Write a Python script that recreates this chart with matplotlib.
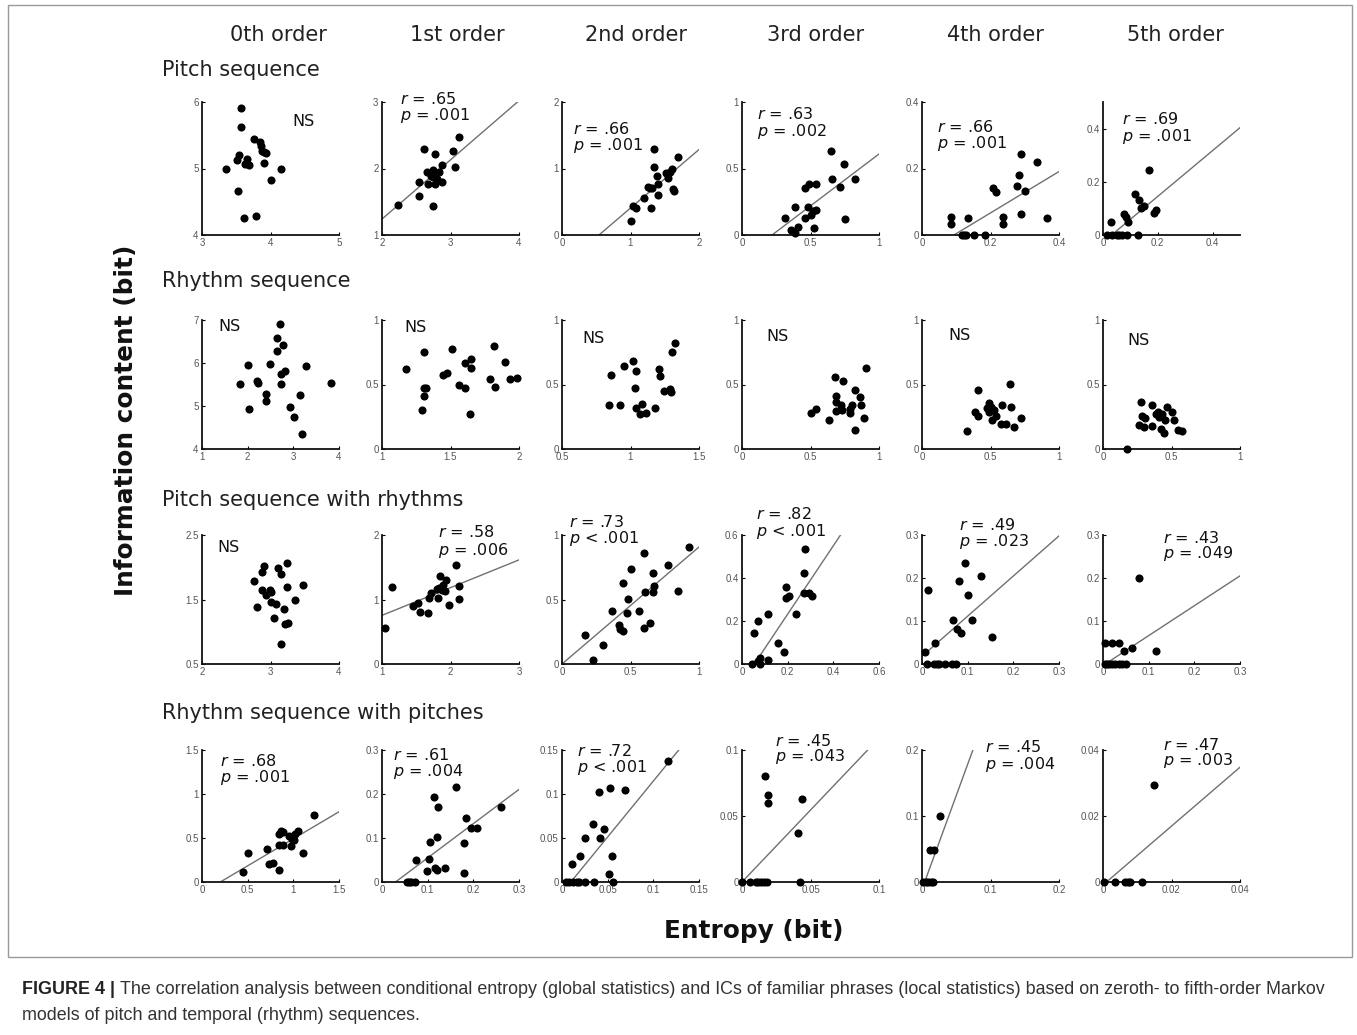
import numpy as np
import matplotlib
matplotlib.use('Agg')
import matplotlib.pyplot as plt
from matplotlib.ticker import FuncFormatter
from matplotlib.patches import Rectangle

# ---- labels ----
orders = ['0th order', '1st order', '2nd order', '3rd order', '4th order', '5th order']
row_titles = ['Pitch sequence', 'Rhythm sequence',
              'Pitch sequence with rhythms', 'Rhythm sequence with pitches']

# ---- row 1: pitch sequence (entropy x, IC y), one list per Markov order ----
pitch_x = [
    [3.57, 3.57, 3.76, 3.84, 3.86, 3.88, 3.90, 3.94, 3.54, 3.51, 3.66, 3.63, 3.69, 3.90, 3.35, 4.15, 4.01, 3.52, 3.62, 3.79],
    [2.24, 2.54, 2.54, 2.65, 2.67, 2.62, 2.75, 2.75, 2.77, 2.77, 2.75, 2.83, 2.88, 2.88, 3.03, 3.06, 3.13, 2.80, 2.72],
    [1.01, 1.03, 1.08, 1.20, 1.25, 1.28, 1.32, 1.30, 1.34, 1.35, 1.38, 1.40, 1.40, 1.52, 1.55, 1.57, 1.61, 1.62, 1.63, 1.70],
    [0.317, 0.385, 0.356, 0.385, 0.407, 0.463, 0.488, 0.483, 0.463, 0.50, 0.52, 0.537, 0.527, 0.537, 0.651, 0.659, 0.712, 0.744, 0.751, 0.824],
    [0.086, 0.086, 0.117, 0.129, 0.135, 0.151, 0.185, 0.208, 0.215, 0.236, 0.236, 0.277, 0.283, 0.289, 0.289, 0.302, 0.335, 0.364, 0.122],
    [0.031, 0.015, 0.033, 0.052, 0.070, 0.089, 0.126, 0.078, 0.085, 0.092, 0.117, 0.132, 0.139, 0.150, 0.169, 0.185, 0.193, 0.060],
]
pitch_y = [
    [5.91, 5.63, 5.44, 5.40, 5.34, 5.27, 5.25, 5.23, 5.20, 5.13, 5.15, 5.07, 5.06, 5.09, 4.99, 4.99, 4.83, 4.66, 4.26, 4.28],
    [1.45, 1.59, 1.80, 1.94, 1.76, 2.29, 1.97, 1.87, 1.77, 2.22, 1.43, 1.94, 2.05, 1.80, 2.27, 2.03, 2.47, 1.84, 1.89],
    [0.21, 0.43, 0.41, 0.55, 0.72, 0.71, 0.70, 0.41, 1.29, 1.03, 0.88, 0.76, 0.60, 0.93, 0.86, 0.94, 1.00, 0.69, 0.66, 1.17],
    [0.127, 0.21, 0.04, 0.015, 0.06, 0.354, 0.386, 0.21, 0.127, 0.152, 0.177, 0.19, 0.056, 0.386, 0.633, 0.418, 0.36, 0.537, 0.12, 0.418],
    [0.053, 0.033, 0.0, 0.0, 0.052, 0.0, 0.0, 0.142, 0.130, 0.053, 0.033, 0.147, 0.18, 0.243, 0.063, 0.132, 0.219, 0.052, 0.0],
    [0.05, 0.0, 0.0, 0.0, 0.0, 0.0, 0.0, 0.08, 0.068, 0.05, 0.153, 0.13, 0.103, 0.109, 0.246, 0.084, 0.093, 0.0],
]

# ---- row 2: rhythm sequence ----
rhythm_x = [
    [1.84, 2.00, 2.04, 2.20, 2.23, 2.41, 2.41, 2.48, 2.64, 2.64, 2.71, 2.77, 2.74, 2.82, 2.74, 2.92, 3.01, 3.15, 3.28, 3.19, 3.82],
    [1.178, 1.305, 1.305, 1.32, 1.305, 1.293, 1.446, 1.476, 1.510, 1.559, 1.607, 1.605, 1.651, 1.651, 1.641, 1.787, 1.817, 1.822, 1.895, 1.934, 1.983],
    [0.842, 0.859, 0.927, 0.951, 1.019, 1.039, 1.031, 1.039, 1.067, 1.082, 1.111, 1.181, 1.207, 1.217, 1.241, 1.289, 1.299, 1.304, 1.328],
    [0.502, 0.542, 0.681, 0.738, 0.689, 0.689, 0.689, 0.637, 0.721, 0.721, 0.787, 0.804, 0.789, 0.825, 0.858, 0.868, 0.824, 0.89, 0.907, 0.73],
    [0.332, 0.385, 0.41, 0.41, 0.471, 0.488, 0.488, 0.512, 0.527, 0.537, 0.573, 0.585, 0.61, 0.641, 0.649, 0.673, 0.72, 0.50],
    [0.173, 0.266, 0.28, 0.285, 0.305, 0.298, 0.359, 0.359, 0.39, 0.412, 0.432, 0.451, 0.427, 0.446, 0.468, 0.505, 0.52, 0.549, 0.578, 0.398],
]
rhythm_y = [
    [5.51, 5.96, 4.93, 5.58, 5.53, 5.28, 5.11, 5.98, 6.58, 6.28, 6.90, 6.41, 5.75, 5.81, 5.52, 4.97, 4.74, 5.25, 5.93, 4.35, 5.53],
    [0.618, 0.753, 0.471, 0.471, 0.413, 0.306, 0.571, 0.592, 0.779, 0.50, 0.471, 0.668, 0.694, 0.629, 0.27, 0.545, 0.797, 0.48, 0.678, 0.545, 0.553],
    [0.342, 0.577, 0.342, 0.64, 0.681, 0.608, 0.474, 0.321, 0.269, 0.347, 0.277, 0.321, 0.623, 0.569, 0.447, 0.465, 0.439, 0.752, 0.822],
    [0.277, 0.308, 0.556, 0.53, 0.408, 0.366, 0.291, 0.225, 0.34, 0.31, 0.313, 0.342, 0.277, 0.457, 0.405, 0.34, 0.146, 0.243, 0.627, 0.30],
    [0.143, 0.285, 0.252, 0.455, 0.32, 0.356, 0.286, 0.221, 0.299, 0.252, 0.195, 0.338, 0.195, 0.506, 0.325, 0.169, 0.239, 0.325],
    [0.0, 0.187, 0.364, 0.252, 0.239, 0.169, 0.338, 0.182, 0.268, 0.247, 0.268, 0.221, 0.156, 0.122, 0.325, 0.286, 0.221, 0.148, 0.138, 0.286],
]

# ---- row 3: pitch sequence with rhythms ----
pitch_rhy_x = [
    [2.756, 2.805, 2.878, 2.912, 2.883, 2.941, 2.99, 3.0, 3.0, 3.073, 3.049, 3.107, 3.156, 3.195, 3.146, 3.205, 3.254, 3.244, 3.244, 3.356, 3.468],
    [1.05, 1.142, 1.451, 1.525, 1.559, 1.672, 1.686, 1.721, 1.819, 1.843, 1.833, 1.882, 1.892, 1.931, 1.917, 1.98, 2.078, 2.127, 2.127, 1.804],
    [0.171, 0.229, 0.302, 0.366, 0.415, 0.424, 0.444, 0.444, 0.473, 0.48, 0.507, 0.561, 0.595, 0.60, 0.605, 0.639, 0.663, 0.663, 0.671, 0.776, 0.849, 0.927],
    [0.045, 0.054, 0.069, 0.077, 0.077, 0.072, 0.114, 0.114, 0.159, 0.185, 0.192, 0.192, 0.208, 0.238, 0.272, 0.272, 0.278, 0.295, 0.305],
    [0.007, 0.013, 0.011, 0.029, 0.026, 0.033, 0.037, 0.051, 0.065, 0.075, 0.068, 0.077, 0.081, 0.085, 0.094, 0.10, 0.11, 0.129, 0.154],
    [0.004, 0.004, 0.009, 0.014, 0.020, 0.026, 0.020, 0.034, 0.036, 0.045, 0.042, 0.051, 0.064, 0.079, 0.115],
]
pitch_rhy_y = [
    [1.792, 1.387, 1.92, 2.013, 1.654, 1.577, 1.654, 1.613, 1.459, 1.423, 1.208, 1.987, 1.895, 1.356, 0.808, 1.126, 1.131, 2.064, 1.695, 1.485, 1.721],
    [0.564, 1.195, 0.897, 0.938, 0.805, 0.785, 1.026, 1.103, 1.026, 1.369, 1.179, 1.154, 1.231, 1.308, 1.128, 0.913, 1.538, 1.215, 1.01, 1.164],
    [0.227, 0.034, 0.149, 0.407, 0.299, 0.273, 0.258, 0.631, 0.394, 0.503, 0.737, 0.407, 0.858, 0.278, 0.557, 0.317, 0.704, 0.557, 0.608, 0.768, 0.567, 0.91],
    [0.0, 0.146, 0.20, 0.028, 0.0, 0.012, 0.02, 0.231, 0.097, 0.058, 0.358, 0.308, 0.317, 0.231, 0.332, 0.425, 0.535, 0.332, 0.317],
    [0.029, 0.173, 0.0, 0.05, 0.0, 0.0, 0.0, 0.0, 0.0, 0.0, 0.102, 0.082, 0.192, 0.071, 0.235, 0.16, 0.102, 0.205, 0.063],
    [0.05, 0.0, 0.0, 0.0, 0.0, 0.0, 0.05, 0.0, 0.05, 0.031, 0.0, 0.0, 0.038, 0.20, 0.031],
]

# ---- row 4: rhythm sequence with pitches ----
rhythm_pit_x = [
    [0.444, 0.505, 0.709, 0.735, 0.782, 0.847, 0.847, 0.847, 0.869, 0.884, 0.884, 0.956, 0.978, 0.985, 1.007, 1.022, 1.051, 1.109, 1.225, 1.0],
    [0.055, 0.059, 0.063, 0.073, 0.075, 0.099, 0.103, 0.106, 0.113, 0.115, 0.121, 0.123, 0.121, 0.139, 0.162, 0.179, 0.179, 0.184, 0.194, 0.207, 0.26],
    [0.004, 0.008, 0.012, 0.016, 0.019, 0.025, 0.035, 0.056, 0.011, 0.020, 0.025, 0.034, 0.040, 0.042, 0.046, 0.051, 0.053, 0.055, 0.069, 0.116],
    [0.0, 0.006, 0.010, 0.012, 0.014, 0.016, 0.018, 0.017, 0.019, 0.019, 0.041, 0.042, 0.044],
    [0.002, 0.006, 0.009, 0.013, 0.016, 0.012, 0.017, 0.027],
    [0.0004, 0.0035, 0.0065, 0.0072, 0.0079, 0.0115, 0.015],
]
rhythm_pit_y = [
    [0.114, 0.331, 0.373, 0.202, 0.217, 0.133, 0.418, 0.544, 0.582, 0.418, 0.57, 0.521, 0.407, 0.494, 0.475, 0.544, 0.582, 0.331, 0.76, 0.52],
    [0.0, 0.0, 0.0, 0.0, 0.049, 0.025, 0.052, 0.092, 0.194, 0.032, 0.103, 0.171, 0.028, 0.032, 0.215, 0.088, 0.021, 0.146, 0.122, 0.122, 0.171],
    [0.0, 0.0, 0.0, 0.0, 0.0, 0.0, 0.0, 0.0, 0.021, 0.030, 0.050, 0.066, 0.102, 0.050, 0.060, 0.009, 0.107, 0.030, 0.105, 0.138],
    [0.0, 0.0, 0.0, 0.0, 0.0, 0.0, 0.0, 0.080, 0.066, 0.060, 0.037, 0.0, 0.063],
    [0.0, 0.0, 0.0, 0.0, 0.0, 0.049, 0.049, 0.10],
    [0.0, 0.0, 0.0, 0.0, 0.0, 0.0, 0.0294],
]

# ---- regression lines (slope, intercept); None where not significant ----
pitch_fit = [None, (0.89, -0.54), (0.88, -0.475), (0.78, -0.171), (0.622, -0.058), (0.861, -0.027)]
rhythm_fit = [None] * 6
pitch_rhy_fit = [None, (0.43, 0.324), (0.907, 0.0), (1.59, -0.086), (0.933, 0.018), (0.695, -0.0035)]
rhythm_pit_fit = [(0.614, -0.123), (0.778, -0.023), (1.27, -0.0123), (1.09, 0.0), (2.84, -0.011), (0.892, -0.0009)]

# ---- correlation statistics (r, p); None -> NS ----
pitch_stats = [None, ('.65', '= .001'), ('.66', '= .001'), ('.63', '= .002'), ('.66', '= .001'), ('.69', '= .001')]
rhythm_stats = [None] * 6
pitch_rhy_stats = [None, ('.58', '= .006'), ('.73', '< .001'), ('.82', '< .001'), ('.49', '= .023'), ('.43', '= .049')]
rhythm_pit_stats = [('.68', '= .001'), ('.61', '= .004'), ('.72', '< .001'), ('.45', '= .043'), ('.45', '= .004'), ('.47', '= .003')]

# ---- axis limits and ticks ----
pitch_xlim = [(3, 5), (2, 4), (0, 2), (0, 1), (0, 0.4), (0, 0.5)]
pitch_ylim = [(4, 6), (1, 3), (0, 2), (0, 1), (0, 0.4), (0, 0.5)]
pitch_xticks = [[3, 4, 5], [2, 3, 4], [0, 1, 2], [0, 0.5, 1], [0, 0.2, 0.4], [0, 0.2, 0.4]]
pitch_yticks = [[4, 5, 6], [1, 2, 3], [0, 1, 2], [0, 0.5, 1], [0, 0.2, 0.4], [0, 0.2, 0.4]]

rhythm_xlim = [(1, 4), (1, 2), (0.5, 1.5), (0, 1), (0, 1), (0, 1)]
rhythm_ylim = [(4, 7), (0, 1), (0, 1), (0, 1), (0, 1), (0, 1)]
rhythm_xticks = [[1, 2, 3, 4], [1, 1.5, 2], [0.5, 1, 1.5], [0, 0.5, 1], [0, 0.5, 1], [0, 0.5, 1]]
rhythm_yticks = [[4, 5, 6, 7], [0, 0.5, 1], [0, 0.5, 1], [0, 0.5, 1], [0, 0.5, 1], [0, 0.5, 1]]

pitch_rhy_xlim = [(2, 4), (1, 3), (0, 1), (0, 0.6), (0, 0.3), (0, 0.3)]
pitch_rhy_ylim = [(0.5, 2.5), (0, 2), (0, 1), (0, 0.6), (0, 0.3), (0, 0.3)]
pitch_rhy_xticks = [[2, 3, 4], [1, 2, 3], [0, 0.5, 1], [0, 0.2, 0.4, 0.6], [0, 0.1, 0.2, 0.3], [0, 0.1, 0.2, 0.3]]
pitch_rhy_yticks = [[0.5, 1.5, 2.5], [0, 1, 2], [0, 0.5, 1], [0, 0.2, 0.4, 0.6], [0, 0.1, 0.2, 0.3], [0, 0.1, 0.2, 0.3]]

rhythm_pit_xlim = [(0, 1.5), (0, 0.3), (0, 0.15), (0, 0.1), (0, 0.2), (0, 0.04)]
rhythm_pit_ylim = [(0, 1.5), (0, 0.3), (0, 0.15), (0, 0.1), (0, 0.2), (0, 0.04)]
rhythm_pit_xticks = [[0, 0.5, 1, 1.5], [0, 0.1, 0.2, 0.3], [0, 0.05, 0.1, 0.15], [0, 0.05, 0.1], [0, 0.1, 0.2], [0, 0.02, 0.04]]
rhythm_pit_yticks = rhythm_pit_xticks

rows = [
    (pitch_x, pitch_y, pitch_fit, pitch_stats, pitch_xlim, pitch_ylim, pitch_xticks, pitch_yticks),
    (rhythm_x, rhythm_y, rhythm_fit, rhythm_stats, rhythm_xlim, rhythm_ylim, rhythm_xticks, rhythm_yticks),
    (pitch_rhy_x, pitch_rhy_y, pitch_rhy_fit, pitch_rhy_stats, pitch_rhy_xlim, pitch_rhy_ylim,
     pitch_rhy_xticks, pitch_rhy_yticks),
    (rhythm_pit_x, rhythm_pit_y, rhythm_pit_fit, rhythm_pit_stats, rhythm_pit_xlim, rhythm_pit_ylim,
     rhythm_pit_xticks, rhythm_pit_yticks),
]

# ---- layout (pixels) ----
W, H = 1357, 1035
col_left = [202, 382, 562, 742, 922, 1103]
col_width = 137
row_span = [(102, 235), (320, 449), (535, 664), (750, 882)]
header_x = [278, 457, 636, 816, 995, 1175]
title_y = [70, 281, 500, 713]

# text anchor (axes fraction) for NS / r,p labels
ns_pos = [
    [(0.66, 0.85), None, None, None, None, None],
    [(0.12, 0.95), (0.16, 0.94), (0.15, 0.86), (0.18, 0.87), (0.19, 0.88), (0.18, 0.84)],
    [(0.11, 0.90), None, None, None, None, None],
    [None] * 6,
]
rp_pos = [
    [None, (0.13, 1.02, 0.90), (0.08, 0.80, 0.67), (0.11, 0.91, 0.78), (0.11, 0.81, 0.69), (0.14, 0.87, 0.74)],
    [None] * 6,
    [None, (0.41, 1.02, 0.88), (0.05, 1.10, 0.97), (0.10, 1.16, 1.03), (0.27, 1.08, 0.95), (0.44, 0.98, 0.86)],
    [(0.13, 0.92, 0.79), (0.08, 0.96, 0.84), (0.11, 0.99, 0.87), (0.24, 1.07, 0.95), (0.46, 1.02, 0.89), (0.44, 1.04, 0.92)],
]

plt.rcParams['font.family'] = 'Liberation Sans'
plt.rcParams['mathtext.fontset'] = 'dejavusans'

fig = plt.figure(figsize=(W / 100, H / 100), dpi=100)
fmt = FuncFormatter(lambda v, pos: '%g' % v)

for r, (xs, ys, fits, stats, xlims, ylims, xtks, ytks) in enumerate(rows):
    top, bottom = row_span[r]
    for c in range(6):
        ax = fig.add_axes([col_left[c] / W, 1 - bottom / H, col_width / W, (bottom - top) / H])
        ax.scatter(xs[c], ys[c], s=34, color='black', linewidths=0, zorder=3, clip_on=False)
        if fits[c] is not None:
            slope, icpt = fits[c]
            xl = np.array(xlims[c], dtype=float)
            ax.plot(xl, slope * xl + icpt, color='#707070', lw=1.0, zorder=2)
        ax.set_xlim(xlims[c])
        ax.set_ylim(ylims[c])
        ax.set_xticks(xtks[c])
        ax.set_yticks(ytks[c])
        ax.xaxis.set_major_formatter(fmt)
        ax.yaxis.set_major_formatter(fmt)
        for side in ['top', 'right']:
            ax.spines[side].set_visible(False)
        for side in ['left', 'bottom']:
            ax.spines[side].set_linewidth(1.3)
            ax.spines[side].set_color('#111111')
        ax.tick_params(direction='in', length=2.5, width=0.8, labelsize=7,
                       labelcolor='#555555', pad=2.5)
        ax.patch.set_alpha(0)

        if stats[c] is None:
            px, py = ns_pos[r][c]
            ax.text(px, py, 'NS', transform=ax.transAxes, family='DejaVu Sans',
                    fontsize=11.5, color='#111111', ha='left', va='center')
        else:
            rv, pv = stats[c]
            px, py1, py2 = rp_pos[r][c]
            ax.text(px, py1, r'$r$ = ' + rv, transform=ax.transAxes, family='DejaVu Sans',
                    fontsize=11.5, color='#111111', ha='left', va='center')
            ax.text(px, py2, r'$p$ ' + pv, transform=ax.transAxes, family='DejaVu Sans',
                    fontsize=11.5, color='#111111', ha='left', va='center')

# column headers and row titles
for c, name in enumerate(orders):
    fig.text(header_x[c] / W, 1 - 35 / H, name, family='DejaVu Sans', fontsize=15,
             color='#222222', ha='center', va='center')
for r, name in enumerate(row_titles):
    fig.text(162 / W, 1 - title_y[r] / H, name, family='DejaVu Sans', fontsize=15,
             color='#222222', ha='left', va='center')

fig.text(126 / W, 1 - 420 / H, 'Information content (bit)', family='DejaVu Sans',
         fontsize=17.8, weight='bold', rotation=90, ha='center', va='center', color='#111111')
fig.text(754 / W, 1 - 931 / H, 'Entropy (bit)', family='DejaVu Sans',
         fontsize=17.8, weight='bold', ha='center', va='center', color='#111111')

# frame around the panels
fig.patches.append(Rectangle((8 / W, 1 - 957 / H), (1352 - 8) / W, (957 - 5) / H,
                             transform=fig.transFigure, fill=False, edgecolor='#9a9a9a', lw=1.0))

# caption
renderer = fig.canvas.get_renderer()
lead = fig.text(22 / W, 1 - 990 / H, 'FIGURE 4 |', fontsize=12.9, weight='bold',
                color='#222222', ha='left', va='center')
bb = lead.get_window_extent(renderer=renderer)
fig.text((bb.x1 + 5) / W, 1 - 990 / H,
         'The correlation analysis between conditional entropy (global statistics) and ICs of '
         'familiar phrases (local statistics) based on zeroth- to fifth-order Markov',
         fontsize=12.9, color='#333333', ha='left', va='center')
fig.text(22 / W, 1 - 1016 / H, 'models of pitch and temporal (rhythm) sequences.',
         fontsize=12.9, color='#333333', ha='left', va='center')

fig.savefig('out.png', dpi=100)
